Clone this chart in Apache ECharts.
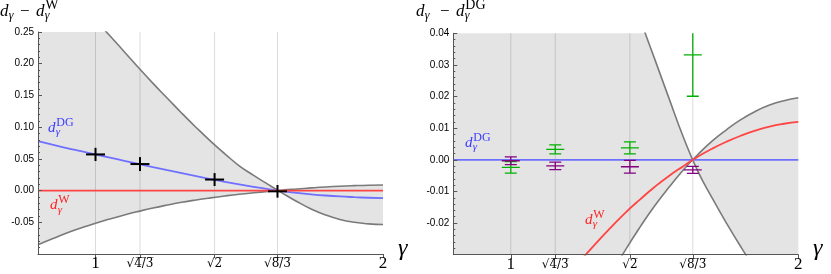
<!DOCTYPE html>
<html><head><meta charset="utf-8">
<script src="https://cdn.jsdelivr.net/npm/echarts@6/dist/echarts.min.js"></script>
<style>html,body{margin:0;padding:0;background:#fff}#c{width:831px;height:274px}</style>
</head><body><div id="c"></div>
<script>
// ---- ticks ----
const tickXs = [1, Math.sqrt(4/3), Math.sqrt(2), Math.sqrt(8/3), 2];
const tickLabels = ['1', '√4\u0305/\u03053\u0305', '√2\u0305', '√8\u0305/\u03053\u0305', '2'];
const gridXs = [1, Math.sqrt(4/3), Math.sqrt(2), Math.sqrt(8/3)];

// ---- left panel curves (d_gamma - d_gamma^W) ----
const leftXs    = [0.8, 0.85, 0.9, 0.95, 1.0, 1.05, 1.1, 1.15, 1.2, 1.25, 1.3, 1.35, 1.4, 1.45, 1.5, 1.55, 1.6, 1.65, 1.7, 1.75, 1.8, 1.85, 1.9, 1.95, 2.0];
const leftUpper = [0.37, 0.345, 0.32, 0.2945, 0.269, 0.244, 0.219, 0.1935, 0.169, 0.1455, 0.122, 0.0995, 0.078, 0.058, 0.039, 0.024, 0.0098, -0.0040, -0.0172, -0.029, -0.0385, -0.0455, -0.0500, -0.0525, -0.0535];
const leftLower = [-0.0854, -0.076, -0.067, -0.059, -0.0515, -0.0447, -0.0385, -0.0328, -0.0275, -0.0228, -0.0185, -0.0148, -0.0115, -0.0085, -0.0058, -0.0035, -0.0014, 0.0007, 0.0025, 0.0042, 0.0057, 0.0069, 0.0078, 0.0085, 0.0089];
const leftBlue  = [0.078, 0.0724, 0.067, 0.062, 0.057, 0.052, 0.047, 0.042, 0.037, 0.0322, 0.0275, 0.0228, 0.0182, 0.0138, 0.0097, 0.0058, 0.0022, -0.0009, -0.0036, -0.0059, -0.0078, -0.0093, -0.0104, -0.0113, -0.0120];
const leftRedXs = [0.8, 2.0];
const leftRed   = [0, 0];
const leftCross = [1.633, 0];

// ---- right panel curves (d_gamma - d_gamma^DG) ----
const rightXs    = [0.8, 0.85, 0.9, 0.95, 1.0, 1.05, 1.1, 1.15, 1.2, 1.25, 1.3, 1.35, 1.4, 1.45, 1.5, 1.55, 1.6, 1.65, 1.7, 1.75, 1.8, 1.85, 1.9, 1.95, 2.0];
const rightSteep = [0.5, 0.45, 0.40, 0.355, 0.31, 0.27, 0.23, 0.195, 0.16, 0.13, 0.10, 0.077, 0.058, 0.0445, 0.032, 0.0195, 0.0072, -0.0035, -0.0120, -0.0200, -0.0275, -0.0345, -0.041, -0.047, -0.053];
const rightRise  = [-0.158, -0.144, -0.13, -0.118, -0.106, -0.094, -0.083, -0.072, -0.062, -0.053, -0.0442, -0.036, -0.0283, -0.0212, -0.0146, -0.0087, -0.0032, 0.0016, 0.0059, 0.0095, 0.0127, 0.0153, 0.0173, 0.0187, 0.0196];
const rightRed   = [-0.092, -0.0837, -0.076, -0.0686, -0.0615, -0.0548, -0.048, -0.0422, -0.0365, -0.0311, -0.026, -0.0212, -0.0166, -0.0125, -0.0086, -0.0051, -0.0020, 0.0010, 0.0035, 0.0057, 0.0076, 0.0092, 0.0105, 0.0114, 0.0120];
const rightBlueXs = [0.8, 2.0];
const rightBlue   = [0, 0];
const rightCross  = [1.633, 0];

// ---- data points ----
const pointXs    = [1, 1.1547, 1.4142, 1.633];
const blackVals  = [0.057, 0.0418, 0.0174, -0.0012];
const blackErr   = [0.0104, 0.0110, 0.0102, 0.0100];
const greenVals  = [-0.0024, 0.0033, 0.0038, 0.0332];
const greenErr   = [0.0018, 0.0014, 0.0019, 0.0131];
const purpleVals = [-0.0003, -0.0019, -0.0022, -0.0032];
const purpleErr  = [0.0012, 0.0012, 0.0020, 0.0011];

const LEFT_Y = [-0.1, 0.25, 0.05];
const RIGHT_Y = [-0.03, 0.04, 0.01];

const SHADE = '#e4e4e4', GRAYC = '#7a7a7a', BLUE = '#7070ff', RED = '#ff4444';
const BLUE_T = '#3a3aff', RED_T = '#ff2020';
const AX = '#555';

const pairs = (xs, ys) => xs.map((x, i) => [x, ys[i]]);

function bandSeries(idx, xs, a, b, cross) {
  return {type: 'custom', xAxisIndex: idx, yAxisIndex: idx, clip: true, z: 1, silent: true,
    data: [cross], encode: {x: 0, y: 1},
    renderItem: (p, api) => {
      const cx = api.value(0), cy = api.value(1);
      const aL = [], bL = [], aR = [], bR = [];
      xs.forEach((x, i) => {
        if (x < cx) { aL.push(api.coord([x, a[i]])); bL.push(api.coord([x, b[i]])); }
        else if (x > cx) { aR.push(api.coord([x, a[i]])); bR.push(api.coord([x, b[i]])); }
      });
      const c = api.coord([cx, cy]);
      const poly1 = aL.concat([c], bL.reverse());
      const poly2 = [c].concat(aR, bR.reverse());
      return {type: 'group', children: [
        {type: 'polygon', shape: {points: poly1}, style: {fill: SHADE, stroke: null}},
        {type: 'polygon', shape: {points: poly2}, style: {fill: SHADE, stroke: null}}
      ]};
    }};
}
function gridLineSeries(idx, yr) {
  return {type: 'custom', xAxisIndex: idx, yAxisIndex: idx, data: gridXs.map(x => [x, 0]),
    encode: {x: 0, y: 1}, z: 2, silent: true,
    renderItem: (p, api) => {
      const x = api.value(0);
      const a = api.coord([x, yr[1]]), b = api.coord([x, yr[0]]);
      return {type: 'line', shape: {x1: a[0], y1: a[1], x2: b[0], y2: b[1]}, style: {stroke: 'rgba(0,0,0,0.14)', lineWidth: 1}};
    }};
}
function curve(idx, xs, ys, color, w, z) {
  return {type: 'line', xAxisIndex: idx, yAxisIndex: idx, data: pairs(xs, ys), smooth: true,
    showSymbol: false, lineStyle: {color, width: w}, silent: true, z};
}
function errSeries(idx, vals, errs, color, lw, halfC, halfCap) {
  return {type: 'custom', xAxisIndex: idx, yAxisIndex: idx, clip: true, z: 6, silent: true,
    data: pointXs.map((x, i) => [x, vals[i], errs[i]]), encode: {x: 0, y: 1},
    renderItem: (p, api) => {
      const x = api.value(0), v = api.value(1), e = api.value(2);
      const c = api.coord([x, v]), t = api.coord([x, v + e]), b = api.coord([x, v - e]);
      const st = {stroke: color, lineWidth: lw};
      const ch = [
        {type: 'line', shape: {x1: c[0], y1: t[1], x2: c[0], y2: b[1]}, style: st},
        {type: 'line', shape: {x1: c[0] - halfC, y1: c[1], x2: c[0] + halfC, y2: c[1]}, style: st}
      ];
      if (halfCap > 0) {
        ch.push({type: 'line', shape: {x1: c[0] - halfCap, y1: t[1], x2: c[0] + halfCap, y2: t[1]}, style: st});
        ch.push({type: 'line', shape: {x1: c[0] - halfCap, y1: b[1], x2: c[0] + halfCap, y2: b[1]}, style: st});
      }
      return {type: 'group', children: ch};
    }};
}

function xAxisCfg(idx) {
  return {type: 'value', gridIndex: idx, min: 0.8, max: 2, z: 10,
    axisLine: {show: true, onZero: false, lineStyle: {color: AX, width: 1}},
    axisTick: {show: true, customValues: tickXs, inside: false, length: 4, lineStyle: {color: AX}},
    splitLine: {show: false},
    axisLabel: {customValues: tickXs, margin: 0, color: '#000',
      formatter: (v) => {
        let bi = 0;
        tickXs.forEach((t, i) => { if (Math.abs(t - v) < Math.abs(tickXs[bi] - v)) bi = i; });
        const s = tickLabels[bi];
        return s.charAt(0) === '√' ? '{s|' + s + '}' : '{b|' + s + '}';
      },
      rich: {b: {fontFamily: 'Liberation Serif', fontSize: 17, lineHeight: 20, color: '#000'},
             s: {fontFamily: 'DejaVu Serif', fontSize: 12, lineHeight: 20, color: '#000'}}}
  };
}
function yAxisCfg(idx, yr) {
  return {type: 'value', gridIndex: idx, min: yr[0], max: yr[1], interval: yr[2], z: 10,
    axisLine: {show: true, onZero: false, lineStyle: {color: AX, width: 1}},
    axisTick: {show: true, inside: true, length: 4, lineStyle: {color: AX}},
    minorTick: {show: true, splitNumber: 5, length: 2, lineStyle: {color: AX}},
    splitLine: {show: false}, minorSplitLine: {show: false},
    axisLabel: {margin: 4, color: '#000', fontFamily: 'Liberation Sans', fontSize: 10,
      formatter: (v) => (v < yr[0] + yr[2] * 0.01) ? '' : v.toFixed(2)}
  };
}

// ---- math labels ----
const g = [];
function txt(x, base, s, font, size, color) {
  g.push({type: 'text', x: x, y: base - 0.34 * size, silent: true, z: 100,
    style: {text: s, font: font.replace('SZ', size + 'px'), fill: color, align: 'left', verticalAlign: 'middle'}});
}
function dLabel(x, base, sup, color, dS, supS, subS) {
  txt(x, base, 'd', 'italic SZ "Liberation Serif"', dS, color);
  txt(x + dS * 0.52, base + dS * 0.2, 'γ', 'italic SZ "Liberation Serif"', subS, color);
  if (sup) txt(x + dS * 0.55, base - dS * 0.42, sup, 'SZ "Liberation Serif"', supS, color);
}
// titles
dLabel(0, 17, null, '#000', 17, 14, 12);
txt(20, 17, '−', 'SZ "Liberation Serif"', 17, '#000');
dLabel(36, 17, 'W', '#000', 17, 14, 12);
dLabel(416, 17, null, '#000', 17, 14, 12);
txt(440, 17, '−', 'SZ "Liberation Serif"', 17, '#000');
dLabel(456, 17, 'DG', '#000', 17, 14, 12);
// in-plot labels
dLabel(48, 133, 'DG', BLUE_T, 15, 12, 11);
dLabel(50, 210.5, 'W', RED_T, 15, 12, 11);
dLabel(465, 148, 'DG', BLUE_T, 15, 12, 11);
dLabel(585, 225, 'W', RED_T, 15, 12, 11);
// gamma axis names
txt(398, 257, 'γ', 'italic SZ "Liberation Serif"', 24, '#000');
txt(813, 257, 'γ', 'italic SZ "Liberation Serif"', 24, '#000');

const chart = echarts.init(document.getElementById('c'), null, {renderer: 'canvas'});
chart.setOption({
  animation: false,
  backgroundColor: '#fff',
  grid: [
    {left: 38, top: 32, width: 345, height: 222, containLabel: false},
    {left: 453.3, top: 33.3, width: 345, height: 221.4, containLabel: false}
  ],
  xAxis: [xAxisCfg(0), xAxisCfg(1)],
  yAxis: [yAxisCfg(0, LEFT_Y), yAxisCfg(1, RIGHT_Y)],
  graphic: {elements: g},
  series: [
    bandSeries(0, leftXs, leftUpper, leftLower, leftCross),
    gridLineSeries(0, LEFT_Y),
    curve(0, leftXs, leftUpper, GRAYC, 1.6, 3),
    curve(0, leftXs, leftLower, GRAYC, 1.6, 3),
    curve(0, leftXs, leftBlue, BLUE, 1.8, 4),
    curve(0, leftRedXs, leftRed, RED, 1.8, 4),
    errSeries(0, blackVals, blackErr, '#000', 2, 9.5, 0),

    bandSeries(1, rightXs, rightSteep, rightRise, rightCross),
    gridLineSeries(1, RIGHT_Y),
    curve(1, rightXs, rightSteep, GRAYC, 1.6, 3),
    curve(1, rightXs, rightRise, GRAYC, 1.6, 3),
    curve(1, rightBlueXs, rightBlue, BLUE, 1.8, 4),
    curve(1, rightXs, rightRed, RED, 1.8, 4),
    errSeries(1, greenVals, greenErr, '#00b000', 1.3, 9, 6),
    errSeries(1, purpleVals, purpleErr, '#800080', 1.3, 9, 6)
  ]
});
</script></body></html>
